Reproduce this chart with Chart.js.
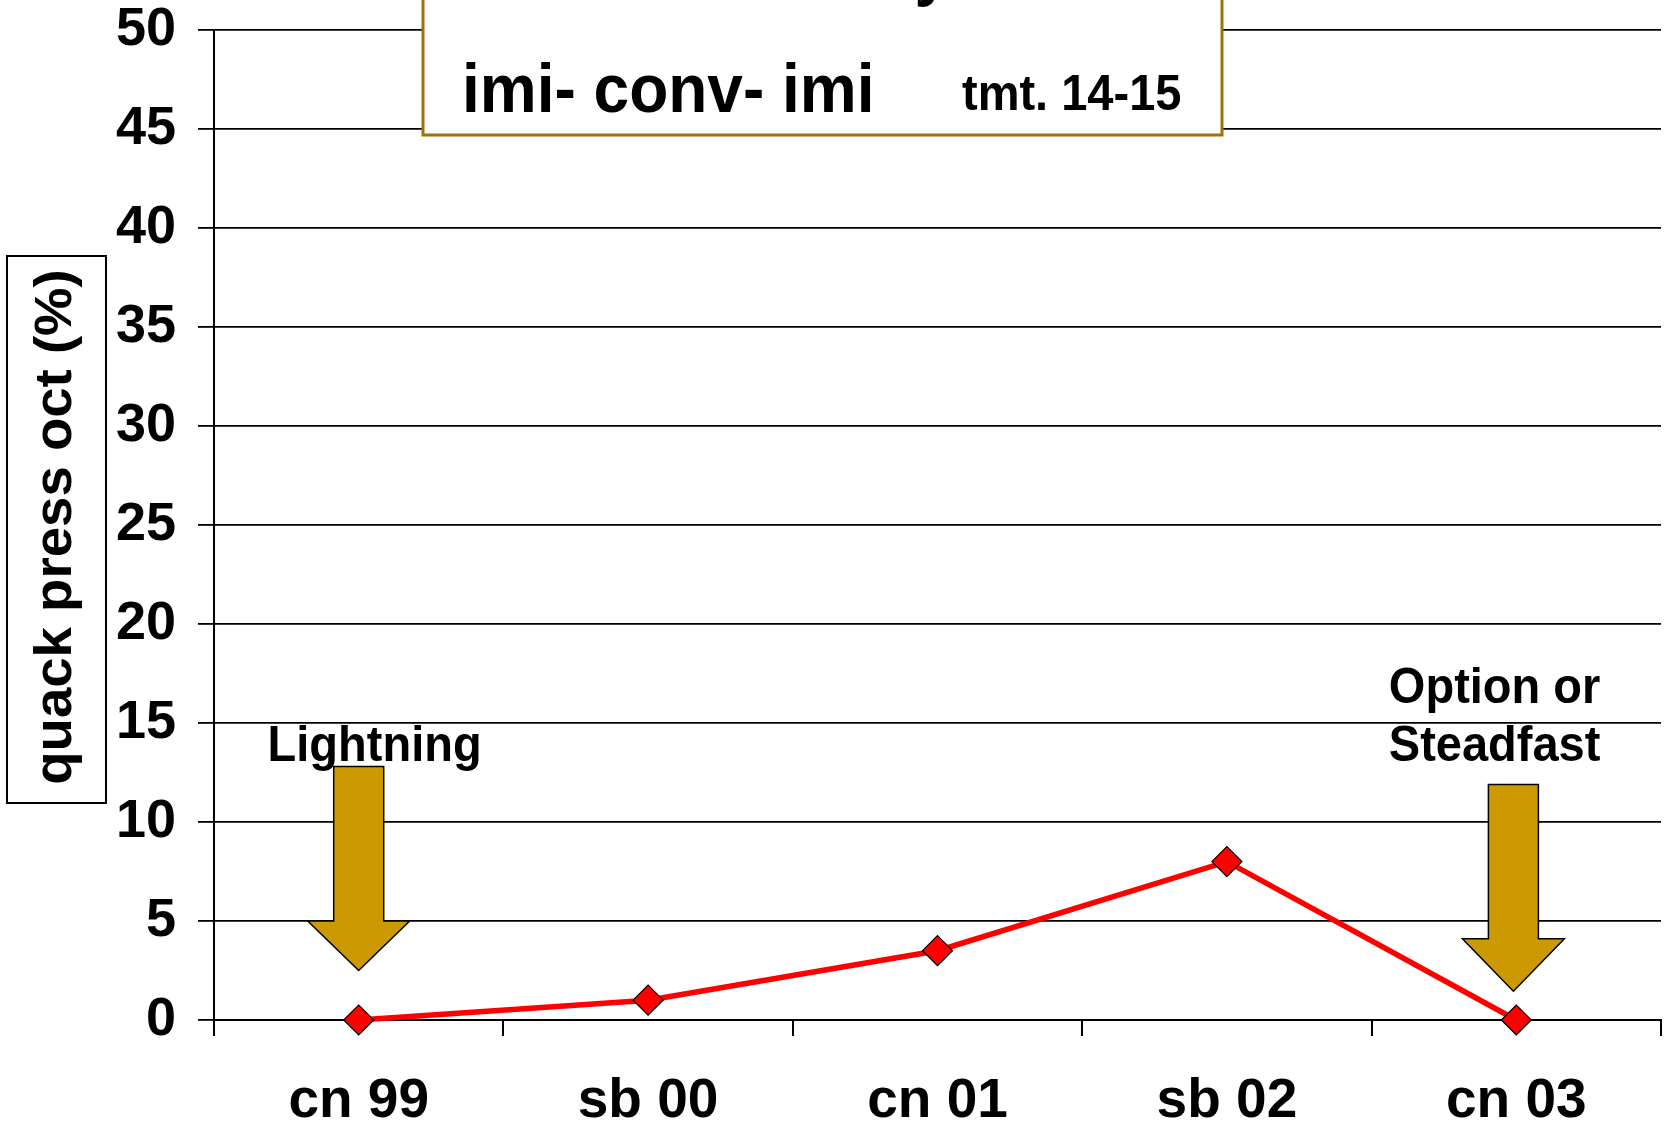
<!DOCTYPE html>
<html>
<head>
<meta charset="utf-8">
<script src="https://cdn.jsdelivr.net/npm/chart.js@4.4.1/dist/chart.umd.min.js"></script>
<style>
  html, body { margin: 0; padding: 0; background: #fff; overflow: hidden; }
  #wrap { width: 1667px; height: 1124px; position: relative; }
  #quackChart { display: block; }
</style>
</head>
<body>
<div id="wrap"><canvas id="quackChart"></canvas></div>
<script>
// datos
const categories = ['cn 99', 'sb 00', 'cn 01', 'sb 02', 'cn 03'];
const quackPress = [0, 1, 3.5, 8, 0];
const yMin = 0;
const yMax = 50;
const yStep = 5;

// flechas: categoria, tope del eje, base de la punta, punta (en unidades del eje y)
const arrowCats = [0, 3.99];
const arrowTop = [12.8, 11.9];
const arrowHeadBase = [5, 4.1];
const arrowTip = [2.5, 1.45];

// textos de las flechas
const noteLines = [['Lightning'], ['Option or', 'Steadfast']];
const noteCats = [0.055, 3.925];
const noteBaselines = [[13.08], [16.0, 13.08]];

const FONT = '"Liberation Sans", Arial, Helvetica, sans-serif';
const GOLD = '#cc9900';

function stretchedText(ctx, text, x, y, size, align) {
    ctx.save();
    ctx.translate(x, y);
    ctx.scale(1, 1.07);
    ctx.font = `bold ${size}px ${FONT}`;
    ctx.textAlign = align || 'left';
    ctx.textBaseline = 'alphabetic';
    ctx.fillStyle = '#000';
    ctx.fillText(text, 0, 0);
    ctx.restore();
}

const extrasPlugin = {
    id: 'extras',
    afterDatasetsDraw(chart) {
        const ctx = chart.ctx;
        const xs = chart.scales.x;
        const ys = chart.scales.y;

        // flechas
        arrowCats.forEach((c, i) => {
            const cx = xs.getPixelForValue(c);
            const top = ys.getPixelForValue(arrowTop[i]);
            const base = ys.getPixelForValue(arrowHeadBase[i]);
            const tip = ys.getPixelForValue(arrowTip[i]);
            const sw = 25, hw = 51;
            ctx.save();
            ctx.beginPath();
            ctx.moveTo(cx - sw, top);
            ctx.lineTo(cx + sw, top);
            ctx.lineTo(cx + sw, base);
            ctx.lineTo(cx + hw, base);
            ctx.lineTo(cx, tip);
            ctx.lineTo(cx - hw, base);
            ctx.lineTo(cx - sw, base);
            ctx.closePath();
            ctx.fillStyle = GOLD;
            ctx.fill();
            ctx.lineWidth = 1.5;
            ctx.strokeStyle = '#000';
            ctx.stroke();
            ctx.restore();
        });

        // etiquetas
        noteLines.forEach((lines, i) => {
            const cx = xs.getPixelForValue(noteCats[i]);
            lines.forEach((t, j) => {
                stretchedText(ctx, t, cx, ys.getPixelForValue(noteBaselines[i][j]), 47, 'center');
            });
        });
    },
    afterDraw(chart) {
        const ctx = chart.ctx;

        // cuadro del titulo
        ctx.save();
        ctx.fillStyle = '#fff';
        ctx.fillRect(423, -10, 799, 145);
        ctx.strokeStyle = '#a0700e';
        ctx.lineWidth = 3;
        ctx.strokeRect(423, -10, 799, 145);
        ctx.restore();
        stretchedText(ctx, 'history', 950, -7, 64, 'right');
        stretchedText(ctx, 'imi- conv- imi', 462, 112, 64, 'left');
        stretchedText(ctx, 'tmt. 14-15', 962, 110, 47, 'left');

        // titulo del eje y en recuadro
        ctx.save();
        ctx.fillStyle = '#fff';
        ctx.fillRect(7, 256, 99, 547);
        ctx.strokeStyle = '#000';
        ctx.lineWidth = 2;
        ctx.strokeRect(7, 256, 99, 547);
        ctx.translate(57, 527);
        ctx.rotate(-Math.PI / 2);
        ctx.scale(1.07, 1);
        ctx.font = `bold 51px ${FONT}`;
        ctx.textAlign = 'center';
        ctx.textBaseline = 'middle';
        ctx.fillStyle = '#000';
        ctx.fillText('quack press oct (%)', 0, 0);
        ctx.restore();
    }
};

const lastGrid = categories.length;

new Chart(document.getElementById('quackChart').getContext('2d'), {
    type: 'line',
    data: {
        labels: categories,
        datasets: [{
            label: 'quack press oct (%)',
            data: quackPress,
            borderColor: '#ff0000',
            borderWidth: 5.5,
            backgroundColor: '#ff0000',
            pointStyle: 'rectRot',
            pointRadius: 15,
            pointBackgroundColor: '#ff0000',
            pointBorderColor: '#000',
            pointBorderWidth: 1.2,
            tension: 0,
            clip: false
        }]
    },
    options: {
        responsive: true,
        maintainAspectRatio: false,
        animation: false,
        layout: { autoPadding: false, padding: { top: 30, right: 6, left: 0, bottom: 0 } },
        plugins: {
            legend: { display: false },
            title: { display: false },
            tooltip: { enabled: false }
        },
        scales: {
            x: {
                type: 'category',
                offset: true,
                afterFit(scale) {
                    scale.height = 104;
                    scale.paddingLeft = 0;
                    scale.paddingRight = 0;
                },
                grid: {
                    offset: true,
                    drawOnChartArea: true,
                    color: ctx => ctx.index === lastGrid ? '#000' : 'rgba(0,0,0,0)',
                    tickColor: '#000',
                    lineWidth: 2,
                    tickLength: 16
                },
                border: { display: true, color: '#000', width: 2 },
                ticks: {
                    color: '#000',
                    padding: 33,
                    maxRotation: 0,
                    autoSkip: false,
                    font: { family: FONT, size: 55, weight: 'bold' }
                }
            },
            y: {
                min: yMin,
                max: yMax,
                afterFit(scale) {
                    scale.width = 214;
                    scale.paddingTop = 0;
                    scale.paddingBottom = 0;
                },
                grid: {
                    color: '#000',
                    lineWidth: 1.8,
                    tickLength: 16,
                    tickColor: '#000'
                },
                border: { display: true, color: '#000', width: 2 },
                ticks: {
                    stepSize: yStep,
                    color: '#000',
                    padding: 22,
                    font: { family: FONT, size: 54, weight: 'bold' }
                }
            }
        }
    },
    plugins: [extrasPlugin]
});
</script>
</body>
</html>
